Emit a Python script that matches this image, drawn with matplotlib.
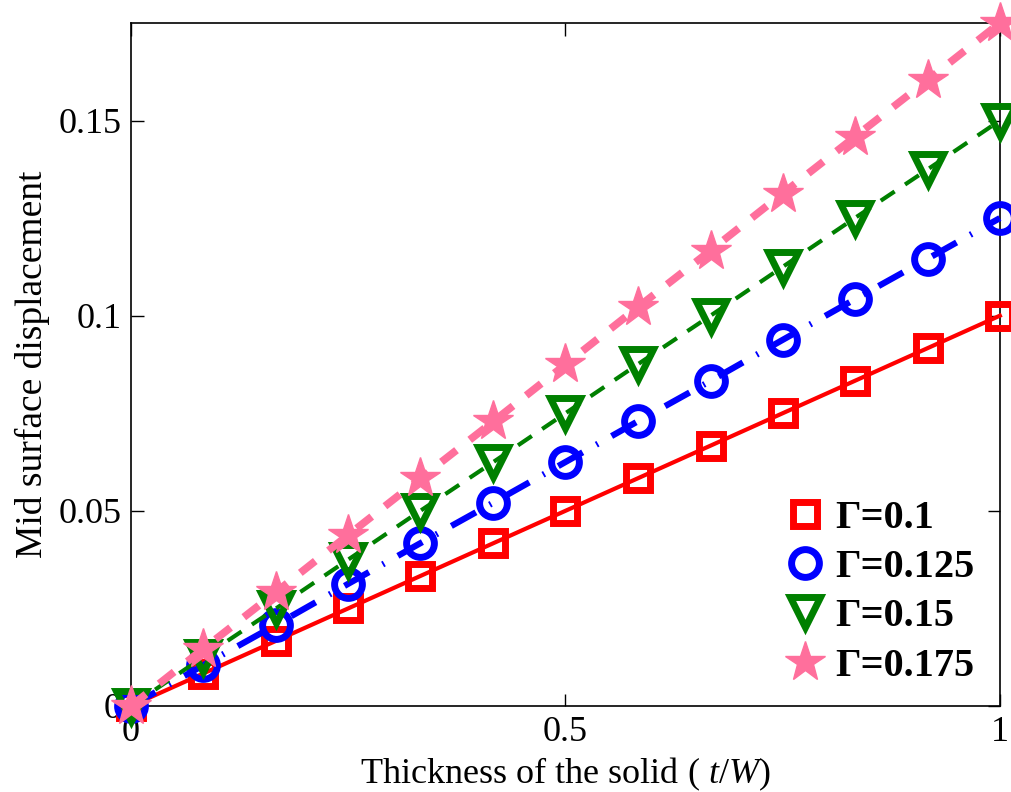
import matplotlib.pyplot as plt
from matplotlib.lines import Line2D

plt.rcParams['font.family'] = ['Liberation Serif', 'DejaVu Serif']
plt.rcParams['mathtext.fontset'] = 'custom'
plt.rcParams['mathtext.rm'] = 'Liberation Serif'
plt.rcParams['mathtext.it'] = 'Liberation Serif:italic'

# thickness t/W
thickness = [0, 0.083, 0.167, 0.25, 0.333, 0.417, 0.5, 0.583, 0.667, 0.75, 0.833, 0.917, 1.0]

# mid surface displacement for each Gamma
disp_010 = [0, 0.0083, 0.0167, 0.025, 0.0333, 0.0417, 0.05, 0.0583, 0.0667, 0.075, 0.0833, 0.0917, 0.1]
disp_0125 = [0, 0.0104, 0.0208, 0.0313, 0.0417, 0.0521, 0.0625, 0.0729, 0.0833, 0.0938, 0.1042, 0.1146, 0.125]
disp_015 = [0, 0.0125, 0.025, 0.0375, 0.05, 0.0625, 0.075, 0.0875, 0.1, 0.1125, 0.125, 0.1375, 0.15]
disp_0175 = [0, 0.0146, 0.0292, 0.0438, 0.0583, 0.0729, 0.0875, 0.1021, 0.1167, 0.1313, 0.1458, 0.1604, 0.175]

labels = ['Γ=0.1', 'Γ=0.125', 'Γ=0.15', 'Γ=0.175']

fig = plt.figure(figsize=(10.12, 7.92), dpi=100)
ax = fig.add_axes([0.1294, 0.1086, 0.8586, 0.8624])

pink = '#ff6f9c'
sq = dict(marker='s', ms=17, mfc='none', mec='red', mew=5)
ci = dict(marker='o', ms=20, mfc='none', mec='blue', mew=5)
tr = dict(marker='v', ms=22, mfc='none', mec='green', mew=5)
st = dict(marker='*', ms=30, mfc=pink, mec=pink, mew=1)

ax.plot(thickness, disp_010, color='red', lw=3, ls='-', clip_on=False, zorder=3, **sq)
ax.plot(thickness, disp_0125, color='blue', lw=4.5, ls=(0, (4.5, 2.5, 0.3, 2.5)),
        clip_on=False, zorder=4, **ci)
ax.plot(thickness, disp_015, color='green', lw=3, ls=(0, (4, 3)), clip_on=False, zorder=5, **tr)
ax.plot(thickness, disp_0175, color=pink, lw=5.5, ls=(0, (2.5, 2.2)), clip_on=False, zorder=6, **st)

ax.set_xlim(0, 1)
ax.set_ylim(0, 0.175)
ax.set_xticks([0, 0.5, 1])
ax.set_xticklabels(['0', '0.5', '1'])
ax.set_yticks([0, 0.05, 0.1, 0.15])
ax.set_yticklabels(['0', '0.05', '0.1', '0.15'])
ax.tick_params(direction='in', top=True, right=True, labelsize=26, length=9, width=1, pad=7)
for s in ax.spines.values():
    s.set_linewidth(1.2)

ax.set_xlabel('Thickness of the solid ( $\\mathit{t/W}$)', fontsize=26, labelpad=5)
ax.set_ylabel('Mid surface displacement', fontsize=27, labelpad=6)

handles = [Line2D([], [], ls='none', **sq), Line2D([], [], ls='none', **ci),
           Line2D([], [], ls='none', **tr), Line2D([], [], ls='none', **st)]
ax.legend(handles, labels, loc='lower right', frameon=False, handlelength=1.2,
          handletextpad=0.15, labelspacing=0.3, bbox_to_anchor=(1.012, -0.022),
          prop={'size': 29, 'weight': 'bold'})

fig.savefig('out.png', dpi=100)
